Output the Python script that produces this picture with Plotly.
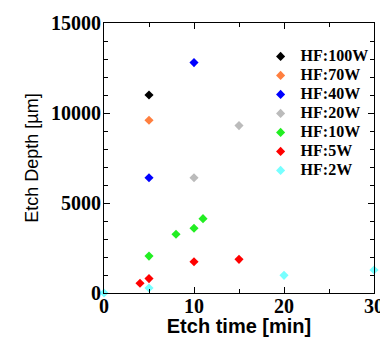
import plotly.graph_objects as go

series_names = ["HF:100W", "HF:70W", "HF:40W", "HF:20W", "HF:10W", "HF:5W", "HF:2W"]
colors = ["#000000", "#FF7F3F", "#0000FF", "#BBBBBB", "#22EE22", "#FF0000", "#77FFFF"]

t_100 = [5]
d_100 = [11000]
t_70 = [5]
d_70 = [9600]
t_40 = [5, 10]
d_40 = [6400, 12800]
t_20 = [10, 15]
d_20 = [6400, 9300]
t_10 = [5, 8, 10, 11]
d_10 = [2050, 3260, 3600, 4130]
t_5 = [4, 5, 10, 15]
d_5 = [540, 800, 1740, 1870]
t_2 = [0, 5, 20, 30]
d_2 = [0, 280, 980, 1280]

x_ticks = [0, 10, 20, 30]
y_ticks = [0, 5000, 10000, 15000]

xs = [t_100, t_70, t_40, t_20, t_10, t_5, t_2]
ys = [d_100, d_70, d_40, d_20, d_10, d_5, d_2]

fig = go.Figure()
for name, c, x, y in zip(series_names, colors, xs, ys):
    fig.add_trace(go.Scatter(x=x, y=y, mode="markers",
                             name='<span style="font-size:16px"><b>' + name + '</b></span>',
                             marker=dict(symbol="diamond", size=7, color=c),
                             cliponaxis=False))

tickfont = dict(family="Liberation Serif", size=20, color="black")
axis_common = dict(showline=True, linecolor="black", linewidth=1, mirror="ticks",
                   ticks="inside", ticklen=6, tickcolor="black", showgrid=False,
                   zeroline=False, tickfont=tickfont, automargin=False,
                   ticklabeloverflow="allow")

fig.update_xaxes(range=[0, 30], ticklabelstandoff=-5,
                 minor=dict(dtick=5, ticks="inside", ticklen=4, tickcolor="black"),
                 title=dict(text="<b>Etch time [min]</b>", font=dict(family="Liberation Sans", size=20, color="black"), standoff=9),
                 tickvals=x_ticks, ticktext=["<b>%d</b>" % v for v in x_ticks],
                 **axis_common)
fig.update_yaxes(range=[0, 15000], ticklabelstandoff=-2,
                 minor=dict(dtick=1000, ticks="inside", ticklen=4, tickcolor="black"),
                 title=dict(text="Etch Depth [µm]", font=dict(family="Liberation Sans", size=18, color="black"), standoff=7),
                 tickvals=y_ticks, ticktext=["<b>%d</b>" % v for v in y_ticks],
                 **axis_common)

fig.update_layout(
    width=380, height=329,
    margin=dict(l=96, r=14, t=15, b=44),
    plot_bgcolor="white", paper_bgcolor="white",
    showlegend=True,
    legend=dict(x=0.58, y=0.93, xanchor="left", yanchor="top",
                font=dict(family="Liberation Serif", size=12, color="black"),
                bgcolor="rgba(0,0,0,0)", itemsizing="trace",
                tracegroupgap=0),
)

fig.write_html("out.html")
